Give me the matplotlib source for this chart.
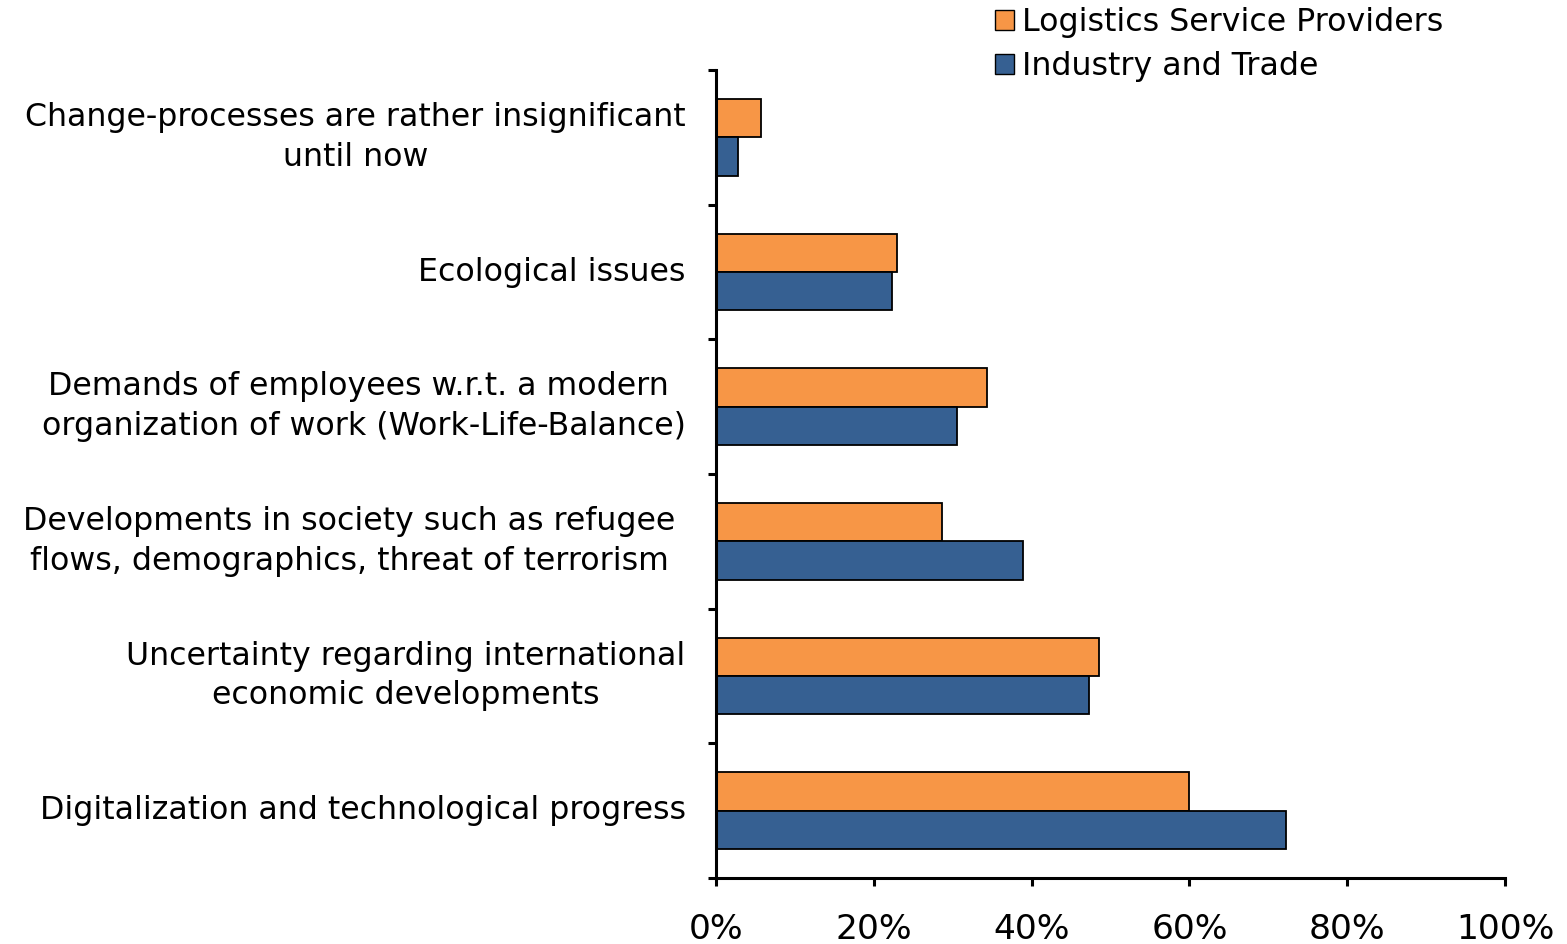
import numpy as np
import matplotlib.pyplot as plt
from matplotlib.patches import Patch

categories = [
    "Digitalization and technological progress",
    "Uncertainty regarding international\neconomic developments",
    "Developments in society such as refugee \nflows, demographics, threat of terrorism ",
    "Demands of employees w.r.t. a modern \norganization of work (Work-Life-Balance)",
    "Ecological issues",
    "Change-processes are rather insignificant\nuntil now",
]
lsp = [60.0, 48.6, 28.6, 34.3, 22.9, 5.7]
ind = [72.3, 47.3, 38.9, 30.5, 22.3, 2.8]

c_lsp = "#F79646"
c_ind = "#366092"

plt.rcParams['font.family'] = ['DejaVu Sans']
fig = plt.figure(figsize=(15.67, 9.44), dpi=100)
ax = fig.add_axes([0.457, 0.0699, 0.5034, 0.8559])

y = np.arange(len(categories))
h = 0.285
ax.barh(y + h / 2, lsp, height=h, color=c_lsp, edgecolor="black", linewidth=1.3)
ax.barh(y - h / 2, ind, height=h, color=c_ind, edgecolor="black", linewidth=1.3)

ax.set_xlim(0, 100)
ax.set_ylim(-0.5, len(categories) - 0.5)
ax.set_xticks(np.arange(0, 101, 20))
ax.set_xticklabels(["{}%".format(v) for v in range(0, 101, 20)], fontsize=24.8)
ax.set_yticks(y)
ax.set_yticklabels(categories, fontsize=22.8, multialignment="center", linespacing=1.36, va="center")
ax.set_yticks(np.arange(-0.5, len(categories), 1), minor=True)

ax.tick_params(axis="y", which="major", length=0, pad=22)
ax.tick_params(axis="y", which="minor", length=6, width=2.2, direction="out")
ax.tick_params(axis="x", which="major", length=6, width=2.2, direction="out", pad=19)

for s in ["top", "right"]:
    ax.spines[s].set_visible(False)
for s in ["left", "bottom"]:
    ax.spines[s].set_linewidth(2.2)

handles = [Patch(facecolor=c_lsp, edgecolor="black", label="Logistics Service Providers"),
           Patch(facecolor=c_ind, edgecolor="black", label="Industry and Trade")]
fig.legend(handles=handles, loc="upper left", bbox_to_anchor=(0.627, 1.006), frameon=False,
           fontsize=22.8, handlelength=0.6, handleheight=0.6, handletextpad=0.25,
           labelspacing=0.42, borderaxespad=0)

fig.savefig("out.png", dpi=100)
